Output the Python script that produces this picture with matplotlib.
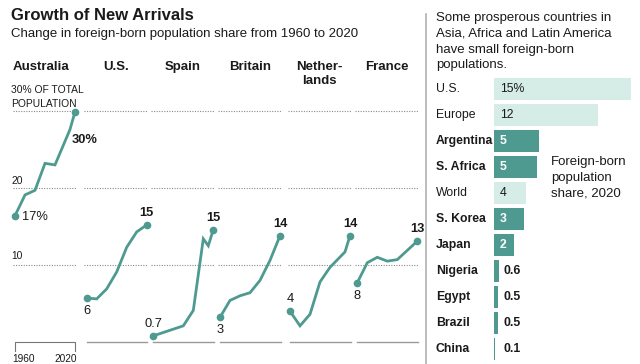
import matplotlib
matplotlib.use("Agg")
import matplotlib.pyplot as plt

plt.rcParams['font.family'] = ['Liberation Sans', 'DejaVu Sans']

W, H = 640, 364
TEAL = '#4f9a90'
LIGHT = '#d6ede7'
TXT = '#1a1a1a'

# ---- small multiples data ----
countries = ['Australia', 'U.S.', 'Spain', 'Britain', 'Nether-\nlands', 'France']
years_aus = [1960, 1970, 1980, 1990, 2000, 2015, 2020]
vals_aus = [16.4, 19.1, 19.7, 23.2, 23.0, 27.6, 29.9]
years_us = [1960, 1970, 1980, 1990, 2000, 2010, 2020]
vals_us = [5.7, 5.6, 6.9, 9.1, 12.3, 14.3, 15.2]
years_spain = [1960, 1990, 2000, 2010, 2015, 2020]
vals_spain = [0.8, 2.1, 4.1, 13.4, 12.5, 14.6]
years_brit = [1960, 1970, 1980, 1990, 2000, 2010, 2020]
vals_brit = [3.2, 5.4, 6.0, 6.4, 8.0, 10.6, 13.8]
years_nl = [1960, 1970, 1980, 1990, 2000, 2015, 2020]
vals_nl = [4.0, 2.1, 3.6, 7.8, 9.7, 11.7, 13.8]
years_fr = [1960, 1970, 1980, 1990, 2000, 2010, 2020]
vals_fr = [7.7, 10.3, 11.0, 10.5, 10.7, 11.9, 13.1]
start_labels = ['17%', '6', '0.7', '3', '4', '8']
end_labels = ['30%', '15', '15', '14', '14', '13']
grid_vals = [10, 20, 30]

series = [(years_aus, vals_aus), (years_us, vals_us), (years_spain, vals_spain),
          (years_brit, vals_brit), (years_nl, vals_nl), (years_fr, vals_fr)]

# ---- bar chart data ----
bar_names = ['U.S.', 'Europe', 'Argentina', 'S. Africa', 'World', 'S. Korea',
             'Japan', 'Nigeria', 'Egypt', 'Brazil', 'China']
bar_vals = [15.0, 11.4, 4.9, 4.7, 3.5, 3.3, 2.2, 0.58, 0.47, 0.47, 0.1]
bar_labels = ['15%', '12', '5', '5', '4', '3', '2', '0.6', '0.5', '0.5', '0.1']
bar_light = [True, True, False, False, True, False, False, False, False, False, False]

fig = plt.figure(figsize=(6.4, 3.64), dpi=100)

def fx(px):
    return px / W

def fy(py):
    return 1 - py / H

# Titles
fig.text(fx(11), fy(15), 'Growth of New Arrivals', fontsize=12, fontweight='bold',
         color=TXT, va='center', ha='left')
fig.text(fx(11), fy(34), 'Change in foreign-born population share from 1960 to 2020',
         fontsize=9.5, color=TXT, va='center', ha='left')

panel_x0 = [15, 86.7, 153.3, 220, 290, 357.3]
header_x = [13, 103, 165, 229, 296, 365]
y0_px, y30_px = 342, 111
LBL = 9.3

for i, (yrs, vals) in enumerate(series):
    ax = fig.add_axes([fx(panel_x0[i]), fy(y0_px), 60 / W, (y0_px - y30_px) / H])
    ax.set_xlim(1960, 2020)
    ax.set_ylim(0, 30)
    ax.axis('off')
    for g in grid_vals:
        ax.plot([1957.5, 2020.5], [g, g], linestyle=(0, (1, 1.3)), lw=0.8,
                color='#8a8a8a', clip_on=False, zorder=1)
    ax.plot(yrs, vals, color=TEAL, lw=2.0, solid_joinstyle='miter', clip_on=False, zorder=3)
    ax.plot([yrs[0], yrs[-1]], [vals[0], vals[-1]], 'o', color=TEAL, ms=4.5,
            clip_on=False, zorder=4)
    if i == 0:
        ax.annotate(start_labels[i], (yrs[0], vals[0]), xytext=(7, -1),
                    textcoords='offset pixels', fontsize=LBL, color=TXT,
                    va='center', ha='left')
        ax.plot([yrs[-1], yrs[-1]], [vals[-1], vals[-1] - 2.6], color='#666', lw=0.6,
                zorder=2)
        ax.annotate(end_labels[i], (yrs[-1], vals[-1]), xytext=(-3, -28),
                    textcoords='offset pixels', fontsize=LBL, fontweight='bold',
                    color=TXT, va='center', ha='left')
        # bracket
        ax.plot([1960, 1960, 2020, 2020], [-1.15, 0, 0, -1.15], color='#777', lw=0.8,
                clip_on=False)
        ax.text(1957.5, -2.2, '1960', fontsize=7.3, color=TXT, ha='left', va='center')
        ax.text(2021.5, -2.2, '2020', fontsize=7.3, color=TXT, ha='right', va='center')
    else:
        ax.plot([1960, 2020.5], [0, 0], color='#999', lw=1.0, clip_on=False, zorder=1)
        if i in (2, 4):
            ax.annotate(start_labels[i], (yrs[0], vals[0]), xytext=(0, 12),
                        textcoords='offset pixels', fontsize=LBL, color=TXT,
                        va='center', ha='center')
        else:
            ax.annotate(start_labels[i], (yrs[0], vals[0]), xytext=(0, -13),
                        textcoords='offset pixels', fontsize=LBL, color=TXT,
                        va='center', ha='center')
        ax.annotate(end_labels[i], (yrs[-1], vals[-1]), xytext=(0, 12),
                    textcoords='offset pixels', fontsize=LBL, fontweight='bold',
                    color=TXT, va='center', ha='center')
    fig.text(fx(header_x[i]), fy(61), countries[i], fontsize=9.5, fontweight='bold',
             color=TXT, va='top', ha='left', linespacing=1.2,
             multialignment='center')

# y labels
fig.text(fx(11), fy(97), '30% OF TOTAL\nPOPULATION', fontsize=7.4, color=TXT,
         va='center', ha='left', linespacing=1.4)
fig.text(fx(11), fy(181), '20', fontsize=7.4, color=TXT, va='center', ha='left')
fig.text(fx(11), fy(256), '10', fontsize=7.4, color=TXT, va='center', ha='left')

# separator
fig.add_artist(plt.Line2D([fx(426), fx(426)], [fy(14), fy(364)], color='#b0b0b0', lw=1.2))

fig.text(fx(436), fy(12), 'Some prosperous countries in\nAsia, Africa and Latin America\nhave small foreign-born\npopulations.',
         fontsize=9.5, color=TXT, va='top', ha='left', linespacing=1.42)

# bar chart
bax = fig.add_axes([fx(494), fy(362), 146 / W, 286 / H])
ypos = list(range(len(bar_names)))
colors = [LIGHT if l else TEAL for l in bar_light]
bax.barh(ypos, bar_vals, height=0.84, color=colors, left=0)
bax.set_xlim(0, 16)
bax.set_ylim(len(bar_names) - 0.5, -0.5)
bax.axis('off')
for y, name, v, lab, light in zip(ypos, bar_names, bar_vals, bar_labels, bar_light):
    bax.annotate(name, (0, y), xytext=(-58, 0), textcoords='offset pixels',
                 fontsize=8.8, fontweight='normal' if light else 'bold', color=TXT,
                 va='center', ha='left')
    if light:
        bax.annotate(lab, (0, y), xytext=(6, 0), textcoords='offset pixels',
                     fontsize=8.8, color=TXT, va='center', ha='left')
    elif v > 1.5:
        bax.annotate(lab, (0, y), xytext=(6, 0), textcoords='offset pixels',
                     fontsize=8.8, fontweight='bold', color='white', va='center', ha='left')
    else:
        bax.annotate(lab, (0, y), xytext=(10, 0), textcoords='offset pixels',
                     fontsize=8.8, fontweight='bold', color=TXT, va='center', ha='left')

fig.text(fx(551), fy(156), 'Foreign-born\npopulation\nshare, 2020', fontsize=9.5,
         color=TXT, va='top', ha='left', linespacing=1.42)

fig.savefig('out.png', dpi=100)
